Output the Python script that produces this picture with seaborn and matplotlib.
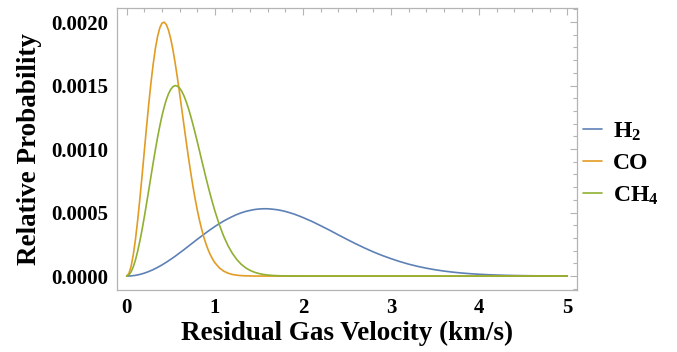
import numpy as np
import pandas as pd
import matplotlib
matplotlib.use("Agg")
import matplotlib.pyplot as plt
from matplotlib.ticker import MultipleLocator, FormatStrFormatter
import seaborn as sns

sns.set_theme(style='white')
plt.rcParams['font.family'] = ['Liberation Serif', 'DejaVu Serif']
plt.rcParams['font.weight'] = 'bold'
plt.rcParams['text.color'] = 'black'
plt.rcParams['axes.labelcolor'] = 'black'
plt.rcParams['xtick.labelcolor'] = 'black'
plt.rcParams['ytick.labelcolor'] = 'black'
plt.rcParams['mathtext.fontset'] = 'custom'
plt.rcParams['mathtext.rm'] = 'Liberation Serif:bold'
plt.rcParams['mathtext.bf'] = 'Liberation Serif:bold'
plt.rcParams['mathtext.it'] = 'Liberation Serif:bold'

# velocity samples (km/s)
v_h2 = [0.00, 0.05, 0.10, 0.15, 0.20, 0.25, 0.30, 0.35, 0.40, 0.45,
        0.50, 0.55, 0.60, 0.65, 0.70, 0.75, 0.80, 0.85, 0.90, 0.95,
        1.00, 1.05, 1.10, 1.15, 1.20, 1.25, 1.30, 1.35, 1.40, 1.45,
        1.50, 1.55, 1.60, 1.65, 1.70, 1.75, 1.80, 1.85, 1.90, 1.95, 2.00,
        2.1, 2.2, 2.3, 2.4, 2.5, 2.6, 2.7, 2.8, 2.9, 3.0,
        3.1, 3.2, 3.3, 3.4, 3.5, 3.6, 3.7, 3.8, 3.9, 4.0,
        4.1, 4.2, 4.3, 4.4, 4.5, 4.6, 4.7, 4.8, 4.9, 5.0]

# narrow peaks (CO, CH4) read on a finer grid
v_heavy = [0.000, 0.025, 0.050, 0.075, 0.100, 0.125, 0.150, 0.175, 0.200, 0.225,
           0.250, 0.275, 0.300, 0.325, 0.350, 0.375, 0.400, 0.425, 0.450, 0.475,
           0.500, 0.525, 0.550, 0.575, 0.600, 0.625, 0.650, 0.675, 0.700, 0.725,
           0.750, 0.775, 0.800, 0.825, 0.850, 0.875, 0.900, 0.925, 0.950, 0.975,
           1.000, 1.05, 1.10, 1.15, 1.20, 1.25, 1.30, 1.35, 1.40, 1.45,
           1.50, 1.55, 1.60, 1.65, 1.70, 1.75, 1.80, 1.85, 1.90, 1.95, 2.00,
           2.1, 2.2, 2.3, 2.4, 2.5, 2.6, 2.7, 2.8, 2.9, 3.0,
           3.1, 3.2, 3.3, 3.4, 3.5, 3.6, 3.7, 3.8, 3.9, 4.0,
           4.1, 4.2, 4.3, 4.4, 4.5, 4.6, 4.7, 4.8, 4.9, 5.0]

h2 = [0.0, 0.00000146, 0.00000582, 0.0000130, 0.0000230, 0.0000356, 0.0000507,
      0.0000681, 0.0000876, 0.000109, 0.000132, 0.000156, 0.000182, 0.000208,
      0.000235, 0.000262, 0.000289, 0.000315, 0.000341, 0.000366, 0.000390,
      0.000412, 0.000433, 0.000452, 0.000469, 0.000485, 0.000498, 0.000509,
      0.000517, 0.000524, 0.000528, 0.000530, 0.000530, 0.000527, 0.000523,
      0.000517, 0.000509, 0.000499, 0.000488, 0.000475, 0.000461,
      0.000431, 0.000397, 0.000362, 0.000325, 0.000289, 0.000254, 0.000221,
      0.000190, 0.000162, 0.000137, 0.000114, 0.0000939, 0.0000767, 0.0000621,
      0.0000497, 0.0000394, 0.0000310, 0.0000241, 0.0000186, 0.0000142,
      0.0000107, 0.0000080, 0.0000060, 0.0000044, 0.0000032, 0.0000023,
      0.0000017, 0.0000012, 0.0000008, 0.0000006]

co = [0.0, 0.0000192, 0.0000760, 0.000168, 0.000291, 0.000441, 0.000611,
      0.000793, 0.000983, 0.001171, 0.001352, 0.001518, 0.001665, 0.001789,
      0.001885, 0.001953, 0.001991, 0.001999, 0.001980, 0.001935, 0.001868,
      0.001781, 0.001678, 0.001564, 0.001442, 0.001315, 0.001187, 0.001061,
      0.000939, 0.000823, 0.000714, 0.000615, 0.000524, 0.000443, 0.000371,
      0.000307, 0.000253, 0.000206, 0.000167, 0.000134, 0.000106,
      0.0000656, 0.0000391, 0.0000226, 0.0000126, 0.0000069, 0.0000036,
      0.0000018, 0.0000009, 0.0000004, 0.0000002, 0.0000001,
      0.0, 0.0, 0.0, 0.0, 0.0, 0.0, 0.0, 0.0, 0.0] + [0.0] * 30

ch4 = [0.0, 0.0000083, 0.0000328, 0.0000731, 0.000128, 0.000197, 0.000277,
       0.000367, 0.000465, 0.000569, 0.000675, 0.000783, 0.000890, 0.000992,
       0.001090, 0.001179, 0.001260, 0.001330, 0.001389, 0.001436, 0.001470,
       0.001491, 0.001500, 0.001496, 0.001481, 0.001455, 0.001419, 0.001374,
       0.001322, 0.001263, 0.001199, 0.001131, 0.001061, 0.000989, 0.000916,
       0.000844, 0.000773, 0.000704, 0.000638, 0.000575, 0.000515,
       0.000407, 0.000315, 0.000239, 0.000178, 0.000130, 0.0000927, 0.0000650,
       0.0000447, 0.0000302, 0.0000200, 0.0000130, 0.0000083, 0.0000052,
       0.0000032, 0.0000020, 0.0000012, 0.0000007, 0.0000004, 0.0000002,
       0.0000001] + [0.0] * 30

gases = ['H$_2$', 'CO', 'CH$_4$']
colors = ['#5E81B5', '#E19C24', '#8FB032']

df = pd.DataFrame({
    'velocity': v_h2 + v_heavy + v_heavy,
    'prob': h2 + co + ch4,
    'gas': [gases[0]] * len(v_h2) + [gases[1]] * len(v_heavy) + [gases[2]] * len(v_heavy),
})

fig = plt.figure(figsize=(6.77, 3.52), dpi=100)
ax = fig.add_axes([0.1728, 0.176, 0.6795, 0.801])

sns.lineplot(data=df, x='velocity', y='prob', hue='gas', hue_order=gases,
             palette=colors, linewidth=1.2, ax=ax, legend=False, sort=False)

ax.set_xlim(-0.11, 5.11)
ax.set_ylim(-0.00011, 0.00211)
ax.xaxis.set_major_locator(MultipleLocator(1))
ax.xaxis.set_minor_locator(MultipleLocator(0.2))
ax.yaxis.set_major_locator(MultipleLocator(0.0005))
ax.yaxis.set_minor_locator(MultipleLocator(0.0001))
ax.yaxis.set_major_formatter(FormatStrFormatter('%.4f'))
ax.xaxis.set_major_formatter(FormatStrFormatter('%d'))

frame_col = '#b4b4b4'
for s in ax.spines.values():
    s.set_color(frame_col)
    s.set_linewidth(0.9)
ax.tick_params(which='both', direction='in', top=True, right=True, color=frame_col,
               labelsize=15, width=0.8, pad=6, labelcolor='black')
ax.tick_params(which='major', length=5)
ax.tick_params(which='minor', length=2.8)
for lab in ax.get_xticklabels() + ax.get_yticklabels():
    lab.set_fontweight('bold')

ax.set_xlabel('Residual Gas Velocity (km/s)', fontsize=19.5, fontweight='bold',
              labelpad=2, color='black')
ax.set_ylabel('Relative Probability', fontsize=19.5, fontweight='bold',
              labelpad=7, color='black')

handles = [plt.Line2D([], [], color=c, linewidth=1.2) for c in colors]
fig.legend(handles, gases, loc='center left', bbox_to_anchor=(0.83, 0.535),
           frameon=False, handlelength=0.8, handletextpad=0.45, labelspacing=0.42,
           prop={'size': 17, 'weight': 'bold'})

fig.savefig('out.png', dpi=100)
